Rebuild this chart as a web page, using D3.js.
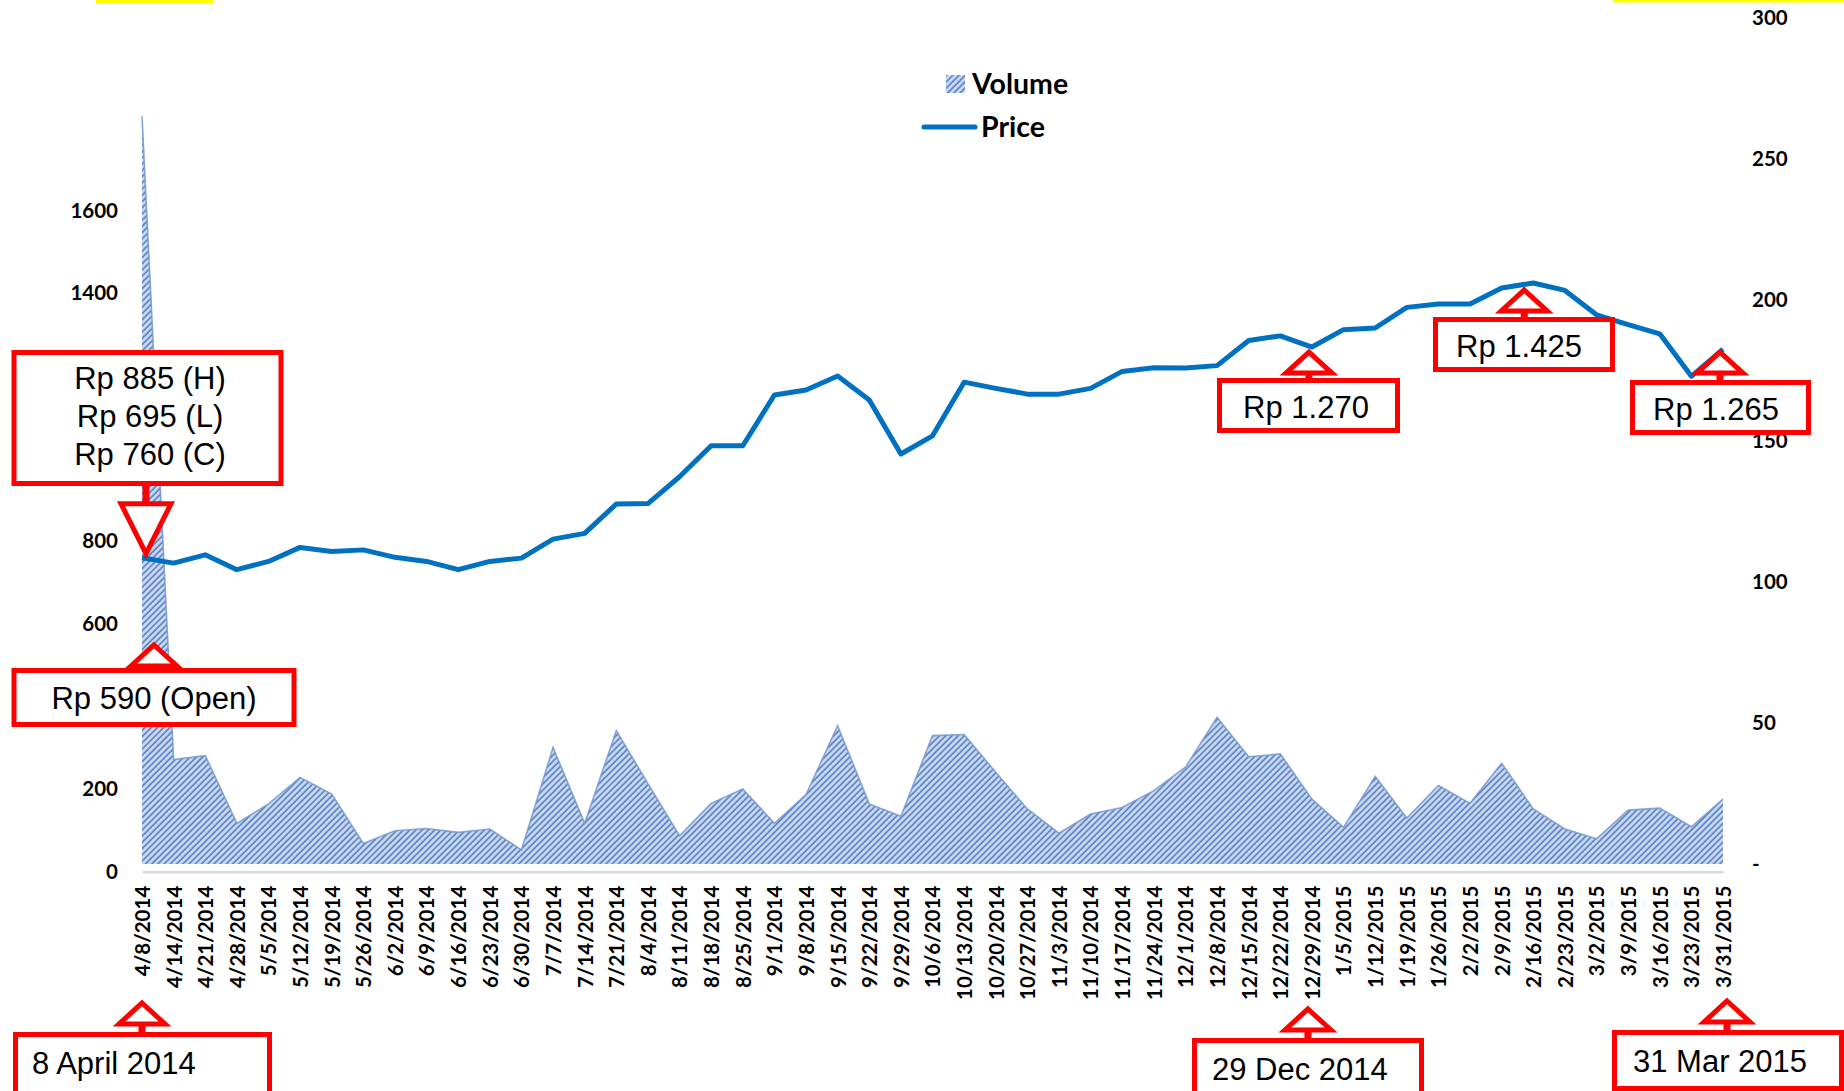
<!DOCTYPE html>
<html>
<head>
<meta charset="utf-8">
<script src="https://cdn.jsdelivr.net/npm/d3@7"></script>
<style>
  html, body { margin: 0; padding: 0; background: #fff; }
  svg { display: block; }
</style>
</head>
<body>
<svg id="chart" width="1844" height="1091"></svg>
<script>
// Weekly trading data, 8 Apr 2014 - 31 Mar 2015
const weeks = ["4/8/2014","4/14/2014","4/21/2014","4/28/2014","5/5/2014","5/12/2014","5/19/2014","5/26/2014",
  "6/2/2014","6/9/2014","6/16/2014","6/23/2014","6/30/2014","7/7/2014","7/14/2014","7/21/2014","8/4/2014",
  "8/11/2014","8/18/2014","8/25/2014","9/1/2014","9/8/2014","9/15/2014","9/22/2014","9/29/2014","10/6/2014",
  "10/13/2014","10/20/2014","10/27/2014","11/3/2014","11/10/2014","11/17/2014","11/24/2014","12/1/2014",
  "12/8/2014","12/15/2014","12/22/2014","12/29/2014","1/5/2015","1/12/2015","1/19/2015","1/26/2015",
  "2/2/2015","2/9/2015","2/16/2015","2/23/2015","3/2/2015","3/9/2015","3/16/2015","3/23/2015","3/31/2015"];

// Volume (secondary axis)
const volume = [265, 37, 38.4, 14.4, 21.3, 30.7, 24.8, 7.3, 11.8, 12.6, 11.2, 12.4, 5, 41.3, 14.4, 47.3, 28.5,
  10, 21.5, 26.6, 14.4, 24.6, 49, 21.3, 16.9, 45.5, 45.9, 32.5, 19.5, 10.9, 17.7, 20, 26, 34.3,
  52, 38, 39, 23, 13, 31, 16.3, 27.8, 21.5, 35.7, 19.5, 12.4, 8.9, 19.1, 19.8, 13.2, 23];

// Closing price in Rp (primary axis)
const price = [760, 747, 767, 731, 751, 785, 775, 779, 761, 751, 731, 751, 759, 805, 819, 890, 891,
  956, 1031, 1031, 1154, 1166, 1200, 1142, 1011, 1055, 1185, 1170, 1156, 1156, 1170, 1211, 1220, 1219,
  1225, 1286, 1297, 1270, 1312, 1316, 1366, 1374, 1374, 1413, 1425, 1407, 1348, 1324, 1302, 1199, 1265];

// Visible tick labels (400, 1000 and 1200 sit under the callout boxes)
const leftTicks = [0, 200, 600, 800, 1400, 1600];
const rightTicks = [0, 50, 100, 150, 200, 250, 300];

const svg = d3.select("#chart");
const RED = "#ff0000";
const BLUE = "#0070c0";
const AXIS_FONT = "Lato, 'Open Sans', sans-serif";
const BOX_FONT = "'Liberation Sans', Arial, sans-serif";

// Scales
const x = d3.scalePoint().domain(weeks).range([142, 1723]);
const yL = d3.scaleLinear().domain([0, 1600]).range([871.7, 210.7]);
const yR = d3.scaleLinear().domain([0, 300]).range([864, 17.5]);

// Hatched fill for the volume area
const defs = svg.append("defs");
const pat = defs.append("pattern")
  .attr("id", "hatch")
  .attr("patternUnits", "userSpaceOnUse")
  .attr("width", 4.4).attr("height", 4.4)
  .attr("patternTransform", "rotate(45)");
pat.append("rect").attr("width", 4.4).attr("height", 4.4).attr("fill", "#cad8f0");
pat.append("line").attr("x1", 1).attr("y1", 0).attr("x2", 1).attr("y2", 4.4)
  .attr("stroke", "#5580c5").attr("stroke-width", 1.6);

// Yellow highlight strips along the top edge
svg.append("rect").attr("x", 96).attr("y", 0).attr("width", 117).attr("height", 3.5).attr("fill", "#ffff00");
svg.append("rect").attr("x", 1613).attr("y", 0).attr("width", 231).attr("height", 2.5).attr("fill", "#ffff00");

// Volume area
const rows = weeks.map((w, i) => ({ week: w, vol: volume[i], price: price[i] }));
svg.append("path")
  .datum(rows)
  .attr("fill", "url(#hatch)")
  .attr("d", d3.area().x(d => x(d.week)).y0(yR(0)).y1(d => yR(d.vol)));
svg.append("path")
  .datum(rows)
  .attr("fill", "none")
  .attr("stroke", "#7396d0")
  .attr("stroke-width", 1.6)
  .attr("stroke-opacity", 0.85)
  .attr("d", d3.line().x(d => x(d.week)).y(d => yR(d.vol)));

// Category axis
const xAxis = svg.append("g")
  .attr("transform", `translate(0,${yL(0)})`)
  .call(d3.axisBottom(x).tickSize(0).tickSizeOuter(0));
xAxis.select(".domain").attr("stroke", "#d9d9d9").attr("stroke-width", 2.5);
xAxis.selectAll("text")
  .attr("transform", "rotate(-90)")
  .attr("x", -14)
  .attr("y", 0)
  .attr("dy", "0.36em")
  .style("text-anchor", "end")
  .style("font-family", AXIS_FONT)
  .style("font-weight", 700)
  .style("font-size", "20.5px")
  .style("fill", "#000");

// Primary (price) axis
const leftAxis = svg.append("g")
  .attr("transform", "translate(126,0)")
  .call(d3.axisLeft(yL).tickValues(leftTicks).tickSize(0).tickPadding(8).tickFormat(d3.format("d")));
leftAxis.select(".domain").remove();
leftAxis.selectAll("text")
  .style("font-family", AXIS_FONT).style("font-weight", 700).style("font-size", "20.5px").style("fill", "#000");

// Secondary (volume) axis
const rightAxis = svg.append("g")
  .attr("transform", "translate(1744,0)")
  .call(d3.axisRight(yR).tickValues(rightTicks).tickSize(0).tickPadding(8)
    .tickFormat(d => d === 0 ? "-" : d3.format("d")(d)));
rightAxis.select(".domain").remove();
rightAxis.selectAll("text")
  .style("font-family", AXIS_FONT).style("font-weight", 700).style("font-size", "20.5px").style("fill", "#000");

// Price line
svg.append("path")
  .datum(rows)
  .attr("fill", "none")
  .attr("stroke", BLUE)
  .attr("stroke-width", 5)
  .attr("stroke-linejoin", "round")
  .attr("d", d3.line().x(d => x(d.week)).y(d => yL(d.price)));

// Legend
const legend = svg.append("g");
legend.append("rect").attr("x", 946).attr("y", 75).attr("width", 19).attr("height", 18).attr("fill", "url(#hatch)");
legend.append("text").attr("x", 972).attr("y", 83).attr("dominant-baseline", "central")
  .style("font-family", AXIS_FONT).style("font-weight", 700).style("font-size", "28.5px").text("Volume");
legend.append("line").attr("x1", 924).attr("x2", 975).attr("y1", 127).attr("y2", 127)
  .attr("stroke", BLUE).attr("stroke-width", 5).attr("stroke-linecap", "round");
legend.append("text").attr("x", 981).attr("y", 126).attr("dominant-baseline", "central")
  .style("font-family", AXIS_FONT).style("font-weight", 700).style("font-size", "28.5px").text("Price");

// Callouts: a red framed box joined by a hollow arrow to a point on the chart
function callout(opt) {
  const g = svg.append("g");
  const sw = 5;
  const { tipX, tipY, dir } = opt;
  const head = opt.head || 21, half = opt.half || 23;
  const baseY = tipY + dir * head;          // dir = +1: arrow points up, -1: points down
  const stemEnd = dir > 0 ? opt.box.y : opt.box.y + opt.box.h;
  // stem
  g.append("rect")
    .attr("x", tipX - 3.5).attr("width", 7)
    .attr("y", Math.min(baseY, stemEnd)).attr("height", Math.abs(stemEnd - baseY))
    .attr("fill", RED);
  // box
  g.append("rect")
    .attr("x", opt.box.x).attr("y", opt.box.y).attr("width", opt.box.w).attr("height", opt.box.h)
    .attr("fill", "#fff").attr("stroke", RED).attr("stroke-width", sw);
  // arrow head
  g.append("path")
    .attr("d", `M${tipX},${tipY} L${tipX + half},${baseY} L${tipX - half},${baseY} Z`)
    .attr("fill", "#fff").attr("stroke", RED).attr("stroke-width", sw).attr("stroke-linejoin", "miter");
  const lh = opt.lineHeight || 38;
  opt.lines.forEach((t, i) => {
    g.append("text")
      .attr("x", opt.textX).attr("y", opt.textY + i * lh)
      .attr("dominant-baseline", "central")
      .attr("text-anchor", opt.anchor || "middle")
      .style("font-family", BOX_FONT).style("font-size", "31px").style("fill", "#000")
      .text(t);
  });
}

const xi = w => x(w);

callout({ box: { x: 14, y: 352.5, w: 267, h: 131 }, lines: ["Rp 885 (H)", "Rp 695 (L)", "Rp 760 (C)"],
  textX: 150, textY: 378, lineHeight: 38, tipX: xi("4/8/2014") + 4, tipY: yL(price[0]) - 4,
  dir: -1, head: 50, half: 25 });
callout({ box: { x: 14, y: 670.5, w: 280, h: 54 }, lines: ["Rp 590 (Open)"],
  textX: 154, textY: 698, tipX: xi("4/8/2014") + 12, tipY: 645, dir: 1 });
callout({ box: { x: 1219.5, y: 380.5, w: 178, h: 50 }, lines: ["Rp 1.270"],
  textX: 1306, textY: 407, tipX: xi("12/29/2014") - 3, tipY: yL(1270) + 5, dir: 1 });
callout({ box: { x: 1435.5, y: 319.5, w: 177, h: 50 }, lines: ["Rp 1.425"],
  textX: 1519, textY: 346, tipX: xi("2/16/2015") - 9, tipY: yL(1425) + 7, dir: 1 });
callout({ box: { x: 1632.5, y: 382.5, w: 176, h: 50 }, lines: ["Rp 1.265"],
  textX: 1716, textY: 409, tipX: xi("3/31/2015") - 3, tipY: yL(1265) + 3, dir: 1 });

// Date markers under the category axis
callout({ box: { x: 15.5, y: 1034.5, w: 254, h: 70 }, lines: ["8 April 2014"], anchor: "start",
  textX: 32, textY: 1063, tipX: xi("4/8/2014"), tipY: 1003, dir: 1 });
callout({ box: { x: 1194.5, y: 1040.5, w: 227, h: 70 }, lines: ["29 Dec 2014"], anchor: "start",
  textX: 1212, textY: 1069, tipX: xi("12/29/2014") - 4, tipY: 1009, dir: 1 });
callout({ box: { x: 1614.5, y: 1032.5, w: 227, h: 56 }, lines: ["31 Mar 2015"], anchor: "start",
  textX: 1633, textY: 1061, tipX: xi("3/31/2015") + 4, tipY: 1001, dir: 1 });
</script>
</body>
</html>
